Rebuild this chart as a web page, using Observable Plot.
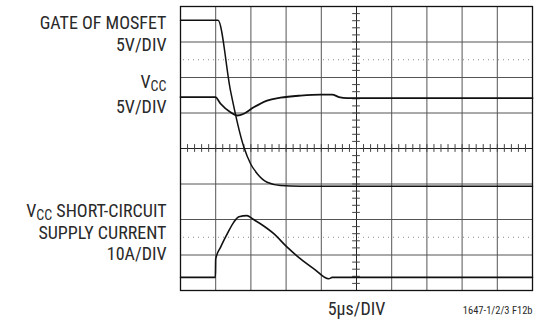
<!DOCTYPE html>
<html>
<head>
<meta charset="utf-8">
<script src="https://cdn.jsdelivr.net/npm/d3@7"></script>
<script src="https://cdn.jsdelivr.net/npm/@observablehq/plot@0.6"></script>
<style>
  html, body { margin: 0; padding: 0; background: #fff; }
  #chart svg { display: block; font-family: "Liberation Sans Narrow", "Roboto Condensed", "DejaVu Sans Condensed", sans-serif; }
</style>
</head>
<body>
<div id="chart"></div>
<script>
// time in divisions (5µs/DIV), value in divisions from screen bottom
const gateT = [0, 1.065, 1.42, 1.80, 1.99, 2.18, 2.46, 2.84, 3.41, 10];
const gateV = [7.61, 7.61, 5.63, 4.04, 3.57, 3.29, 3.05, 2.96, 2.94, 2.94];

const vccT = [0, 0.99, 1.14, 1.42, 1.61, 1.80, 2.08, 2.46, 2.84, 3.41, 3.98, 4.31, 4.50, 4.74, 10];
const vccV = [5.45, 5.45, 5.26, 5.02, 4.93, 4.98, 5.16, 5.35, 5.43, 5.49, 5.52, 5.52, 5.45, 5.42, 5.42];

const curT = [0, 0.99, 1.0, 1.14, 1.33, 1.51, 1.66, 1.89, 2.04, 2.27, 2.65, 3.03, 3.41, 3.79, 4.21, 4.31, 10];
const curV = [0.37, 0.37, 0.89, 1.22, 1.60, 1.92, 2.08, 2.11, 2.02, 1.88, 1.60, 1.22, 0.89, 0.61, 0.33, 0.37, 0.37];

const gridX = [0, 1, 2, 3, 4, 5, 6, 7, 8, 9, 10];
const gridY = [0, 1, 2, 3, 4, 5, 6, 7, 8];
const dottedY = [1.5, 6.5];

const labelTexts = ["GATE OF MOSFET", "5V/DIV", "VCC", "5V/DIV", "VCC SHORT-CIRCUIT", "SUPPLY CURRENT", "10A/DIV"];
const xLabel = "5µs/DIV";
const figId = "1647-1/2/3 F12b";

// label baselines (in divisions)
const labelY = [7.38, 6.76, 5.70, 4.99, 2.06, 1.44, 0.85];

const toRows = (t, v) => t.map((x, i) => ({x, y: v[i]}));
const minorX = d3.range(0, 10.001, 0.2).map(x => +x.toFixed(2));
const minorY = d3.range(0, 8.001, 0.2).map(y => +y.toFixed(2));
const labels = labelTexts.map((text, i) => ({text, y: labelY[i]}));

const chart = Plot.plot({
  width: 540,
  height: 320,
  marginLeft: 180,
  marginRight: 8,
  marginTop: 6,
  marginBottom: 30,
  x: {domain: [0, 10], axis: null},
  y: {domain: [0, 8], axis: null},
  marks: [
    Plot.ruleX(gridX, {stroke: "#555", strokeWidth: 1}),
    Plot.ruleY(gridY, {stroke: "#555", strokeWidth: 1}),
    Plot.ruleY(dottedY, {stroke: "#888", strokeWidth: 1, strokeDasharray: "1,4", strokeDashoffset: -3}),
    Plot.ruleX([5], {stroke: "#222", strokeWidth: 1}),
    Plot.ruleY([4], {stroke: "#222", strokeWidth: 1}),
    Plot.ruleX(minorX, {x: d => d, y1: 3.89, y2: 4.11, stroke: "#444", strokeWidth: 1}),
    Plot.ruleY(minorY, {y: d => d, x1: 4.89, x2: 5.11, stroke: "#444", strokeWidth: 1}),
    Plot.line(toRows(gateT, gateV), {x: "x", y: "y", stroke: "#111", strokeWidth: 1.5, curve: "monotone-x"}),
    Plot.line(toRows(vccT, vccV), {x: "x", y: "y", stroke: "#111", strokeWidth: 1.8, curve: "monotone-x"}),
    Plot.line(toRows(curT, curV), {x: "x", y: "y", stroke: "#111", strokeWidth: 1.6, curve: "monotone-x"}),
    Plot.frame({stroke: "#111", strokeWidth: 1.3}),
    Plot.text(labels, {frameAnchor: "left", y: "y", text: "text", dx: -14, textAnchor: "end", lineAnchor: "bottom", fontSize: 18, fill: "#2a2a2a"}),
    Plot.text([xLabel], {x: 5, y: -0.70, text: d => d, textAnchor: "middle", lineAnchor: "bottom", fontSize: 18, fill: "#2a2a2a"}),
    Plot.text([figId], {x: 10, y: -0.66, text: d => d, textAnchor: "end", lineAnchor: "bottom", fontSize: 10.5, fill: "#2a2a2a"})
  ]
});

document.getElementById("chart").appendChild(chart);

// subscripts for V_CC
d3.select(chart).selectAll("text").each(function () {
  const node = d3.select(this);
  const content = this.textContent;
  if (content.startsWith("VCC")) {
    const rest = content.slice(3);
    node.text(null);
    node.append("tspan").text("V");
    node.append("tspan").attr("font-size", "0.78em").attr("dy", "0.22em").text("CC");
    if (rest.length) node.append("tspan").attr("dy", "-0.22em").text(rest);
  }
});
</script>
</body>
</html>
